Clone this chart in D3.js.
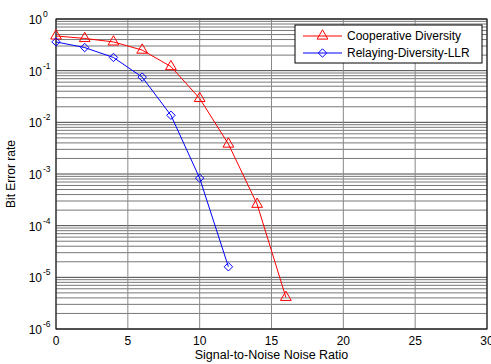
<!DOCTYPE html>
<html>
<head>
<meta charset="utf-8">
<script src="https://cdn.jsdelivr.net/npm/d3@7"></script>
<style>
  body { margin: 0; background: #fff; }
  text { font-family: "Liberation Sans", Arial, sans-serif; }
</style>
</head>
<body>
<div id="chart"></div>
<script>
const snr = [0, 2, 4, 6, 8, 10, 12, 14, 16];
const cooperative = [0.47, 0.42, 0.36, 0.25, 0.12, 0.029, 0.0038, 0.00026, 0.0000041];
const snrLLR = [0, 2, 4, 6, 8, 10, 12];
const relayingLLR = [0.36, 0.28, 0.18, 0.075, 0.0137, 0.00083, 0.000016];
const xTicks = [0, 5, 10, 15, 20, 25, 30];
const yExponents = [0, -1, -2, -3, -4, -5, -6];
const seriesNames = ["Cooperative Diversity", "Relaying-Diversity-LLR"];

const width = 491, height = 364;
const margin = {top: 19, right: 4, bottom: 35, left: 56};

const svg = d3.select("#chart").append("svg")
    .attr("width", width)
    .attr("height", height);

const x = d3.scaleLinear()
    .domain([0, 30])
    .range([margin.left, width - margin.right]);

const y = d3.scaleLog()
    .domain([1e-6, 1])
    .range([height - margin.bottom, margin.top]);

// minor grid (2..9 in each decade)
const minor = [];
for (let e = -6; e < 0; e++) {
    for (let m = 2; m <= 9; m++) minor.push(m * Math.pow(10, e));
}

const grid = svg.append("g");
grid.selectAll(".minor")
    .data(minor)
  .enter().append("line")
    .attr("x1", x(0)).attr("x2", x(30))
    .attr("y1", d => y(d)).attr("y2", d => y(d))
    .attr("stroke", "#777")
    .attr("stroke-width", 1);

grid.selectAll(".major")
    .data(yExponents)
  .enter().append("line")
    .attr("x1", x(0)).attr("x2", x(30))
    .attr("y1", d => y(Math.pow(10, d))).attr("y2", d => y(Math.pow(10, d)))
    .attr("stroke", "#444")
    .attr("stroke-width", 1);

grid.selectAll(".vgrid")
    .data(xTicks)
  .enter().append("line")
    .attr("x1", d => x(d)).attr("x2", d => x(d))
    .attr("y1", y(1)).attr("y2", y(1e-6))
    .attr("stroke", "#888")
    .attr("stroke-width", 1);

// axes box
svg.append("rect")
    .attr("x", x(0)).attr("y", y(1))
    .attr("width", x(30) - x(0))
    .attr("height", y(1e-6) - y(1))
    .attr("fill", "none")
    .attr("stroke", "#000")
    .attr("stroke-width", 1);

// x tick labels
svg.selectAll(".xlab")
    .data(xTicks)
  .enter().append("text")
    .attr("x", d => x(d))
    .attr("y", y(1e-6) + 16)
    .attr("text-anchor", "middle")
    .attr("font-size", 12)
    .text(d => d);

// y tick labels 10^e
const ylab = svg.selectAll(".ylab")
    .data(yExponents)
  .enter().append("text")
    .attr("x", x(0) - 14)
    .attr("y", d => y(Math.pow(10, d)) + 5)
    .attr("text-anchor", "end")
    .attr("font-size", 12);
ylab.append("tspan").text("10");
ylab.append("tspan")
    .attr("x", x(0) - 13)
    .attr("dy", -7)
    .attr("text-anchor", "start")
    .attr("font-size", 8.5)
    .text(d => d);

// axis titles
svg.append("text")
    .attr("x", (x(0) + x(30)) / 2)
    .attr("y", height - 5)
    .attr("text-anchor", "middle")
    .attr("font-size", 12.5)
    .text("Signal-to-Noise Noise Ratio");

svg.append("text")
    .attr("transform", `translate(15,${(y(1) + y(1e-6)) / 2}) rotate(-90)`)
    .attr("text-anchor", "middle")
    .attr("font-size", 12)
    .text("Bit Error rate");

const line = d3.line()
    .x(d => x(d[0]))
    .y(d => y(d[1]));

const triangle = d3.symbol().type(d3.symbolTriangle).size(50);
const diamond = d3.symbol().type(d3.symbolDiamond2).size(45);

const series = [
    {name: seriesNames[0], pts: d3.zip(snr, cooperative), color: "#ff0000", sym: triangle},
    {name: seriesNames[1], pts: d3.zip(snrLLR, relayingLLR), color: "#0000ff", sym: diamond}
];

series.forEach(s => {
    svg.append("path")
        .attr("d", line(s.pts))
        .attr("fill", "none")
        .attr("stroke", s.color)
        .attr("stroke-width", 1);
    svg.selectAll(null)
        .data(s.pts)
      .enter().append("path")
        .attr("transform", d => `translate(${x(d[0])},${y(d[1])})`)
        .attr("d", s.sym())
        .attr("fill", "none")
        .attr("stroke", s.color)
        .attr("stroke-width", 1);
});

// legend
const legend = svg.append("g").attr("transform", "translate(295,25)");
legend.append("rect")
    .attr("width", 187)
    .attr("height", 38)
    .attr("fill", "#fff")
    .attr("stroke", "#000")
    .attr("stroke-width", 1);

series.forEach((s, i) => {
    const ly = 11 + i * 17;
    legend.append("line")
        .attr("x1", 8).attr("x2", 47)
        .attr("y1", ly).attr("y2", ly)
        .attr("stroke", s.color);
    legend.append("path")
        .attr("transform", `translate(27.5,${ly})`)
        .attr("d", s.sym())
        .attr("fill", "none")
        .attr("stroke", s.color);
    legend.append("text")
        .attr("x", 52)
        .attr("y", ly + 4)
        .attr("font-size", 12)
        .text(s.name);
});
</script>
</body>
</html>
